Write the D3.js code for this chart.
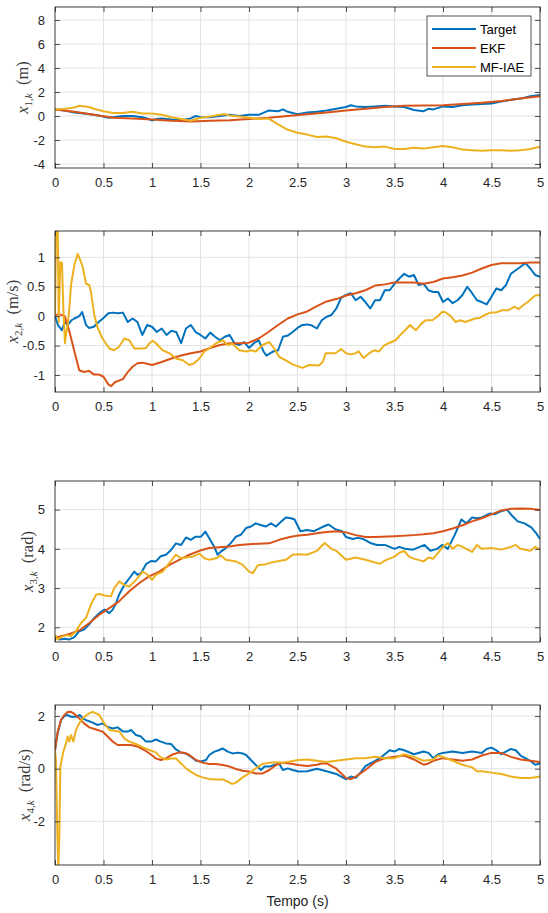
<!DOCTYPE html>
<html><head><meta charset="utf-8">
<script src="https://cdn.jsdelivr.net/npm/d3@7/dist/d3.min.js"></script>
<style>body{margin:0;background:#fff}</style>
</head><body><svg id="c" width="548" height="913"></svg>
<script>
// ---------- DATA ----------
const xTicks = [0,0.5,1,1.5,2,2.5,3,3.5,4,4.5,5];
const seriesNames = ["Target","EKF","MF-IAE"];
const x1Ticks = [-4,-2,0,2,4,6,8];
const x2Ticks = [-1,-0.5,0,0.5,1];
const x3Ticks = [2,3,4,5];
const x4Ticks = [-2,0,2];

const x1Target = [[0,0.55],[0.1,0.45],[0.2,0.3],[0.3,0.2],[0.4,0.1],[0.5,-0.05],[0.55,-0.15],[0.6,-0.1],[0.7,0.0],[0.8,0.0],[0.9,-0.1],[0.95,-0.2],[1.0,-0.38],[1.05,-0.25],[1.1,-0.2],[1.2,-0.3],[1.3,-0.35],[1.4,-0.2],[1.45,0.0],[1.5,-0.1],[1.6,-0.1],[1.7,0.0],[1.8,0.1],[1.9,0.0],[2.0,0.1],[2.1,0.1],[2.2,0.45],[2.3,0.4],[2.35,0.55],[2.4,0.35],[2.5,0.15],[2.6,0.3],[2.7,0.35],[2.8,0.45],[2.9,0.6],[3.0,0.75],[3.05,0.9],[3.1,0.8],[3.2,0.75],[3.3,0.8],[3.4,0.85],[3.5,0.8],[3.6,0.75],[3.7,0.5],[3.8,0.4],[3.85,0.6],[3.9,0.55],[4.0,0.8],[4.1,0.75],[4.2,0.9],[4.3,0.95],[4.4,1.0],[4.5,1.05],[4.6,1.2],[4.7,1.35],[4.8,1.45],[4.9,1.65],[5.0,1.75]];
const x1EKF = [[0,0.55],[0.2,0.35],[0.4,0.1],[0.6,-0.15],[0.8,-0.2],[1.0,-0.3],[1.2,-0.4],[1.4,-0.45],[1.6,-0.4],[1.8,-0.35],[2.0,-0.25],[2.2,-0.15],[2.4,0.0],[2.6,0.15],[2.8,0.3],[3.0,0.45],[3.2,0.6],[3.4,0.75],[3.6,0.85],[3.8,0.88],[4.0,0.9],[4.2,1.0],[4.4,1.1],[4.6,1.25],[4.8,1.45],[5.0,1.65]];
const x1MF = [[0,0.55],[0.1,0.6],[0.2,0.7],[0.25,0.85],[0.35,0.75],[0.4,0.6],[0.5,0.4],[0.6,0.25],[0.7,0.25],[0.8,0.35],[0.9,0.2],[1.0,0.2],[1.1,0.1],[1.2,-0.1],[1.3,-0.25],[1.4,-0.4],[1.5,-0.15],[1.6,-0.05],[1.7,0.1],[1.75,0.15],[1.8,0.05],[1.9,-0.05],[2.0,-0.15],[2.1,-0.25],[2.2,-0.2],[2.3,-0.7],[2.4,-1.15],[2.5,-1.4],[2.6,-1.55],[2.7,-1.75],[2.8,-1.7],[2.9,-1.85],[3.0,-2.15],[3.1,-2.35],[3.2,-2.55],[3.3,-2.6],[3.4,-2.55],[3.5,-2.75],[3.6,-2.75],[3.7,-2.65],[3.8,-2.7],[3.9,-2.6],[4.0,-2.5],[4.1,-2.6],[4.2,-2.8],[4.3,-2.85],[4.4,-2.9],[4.5,-2.85],[4.6,-2.85],[4.7,-2.9],[4.8,-2.85],[4.9,-2.75],[5.0,-2.55]];

const x2Target = [[0,0.0],[0.03,-0.15],[0.07,-0.24],[0.1,-0.1],[0.13,-0.15],[0.17,-0.07],[0.2,-0.04],[0.25,0.0],[0.28,0.07],[0.32,-0.15],[0.35,-0.2],[0.4,-0.18],[0.45,-0.1],[0.5,-0.03],[0.55,0.05],[0.6,0.06],[0.65,0.05],[0.7,0.06],[0.75,-0.1],[0.8,-0.04],[0.85,-0.1],[0.9,-0.32],[0.95,-0.15],[1.0,-0.18],[1.05,-0.27],[1.1,-0.21],[1.15,-0.32],[1.2,-0.25],[1.25,-0.27],[1.3,-0.46],[1.35,-0.21],[1.4,-0.15],[1.45,-0.27],[1.5,-0.32],[1.55,-0.38],[1.6,-0.28],[1.65,-0.35],[1.7,-0.41],[1.75,-0.35],[1.8,-0.32],[1.85,-0.46],[1.9,-0.49],[1.95,-0.44],[2.0,-0.54],[2.05,-0.46],[2.1,-0.41],[2.15,-0.6],[2.18,-0.67],[2.25,-0.6],[2.3,-0.58],[2.35,-0.35],[2.4,-0.33],[2.45,-0.27],[2.5,-0.2],[2.55,-0.15],[2.6,-0.14],[2.65,-0.16],[2.7,-0.21],[2.75,-0.07],[2.8,-0.01],[2.85,0.02],[2.9,0.13],[2.95,0.31],[3.0,0.36],[3.05,0.39],[3.1,0.27],[3.15,0.33],[3.2,0.24],[3.25,0.13],[3.3,0.27],[3.35,0.27],[3.4,0.44],[3.45,0.44],[3.5,0.55],[3.55,0.64],[3.6,0.72],[3.65,0.67],[3.7,0.7],[3.75,0.53],[3.8,0.55],[3.85,0.44],[3.9,0.41],[3.95,0.41],[4.0,0.24],[4.05,0.3],[4.1,0.22],[4.15,0.27],[4.2,0.36],[4.25,0.5],[4.3,0.39],[4.35,0.27],[4.4,0.24],[4.45,0.2],[4.5,0.33],[4.55,0.47],[4.6,0.44],[4.65,0.53],[4.7,0.72],[4.75,0.78],[4.8,0.84],[4.85,0.9],[4.9,0.81],[4.95,0.7],[5.0,0.67]];
const x2EKF = [[0,0.02],[0.05,0.03],[0.1,0.0],[0.15,-0.27],[0.2,-0.6],[0.25,-0.92],[0.3,-0.95],[0.35,-0.93],[0.4,-0.99],[0.45,-0.99],[0.5,-1.03],[0.55,-1.16],[0.58,-1.19],[0.62,-1.12],[0.7,-1.07],[0.75,-0.95],[0.8,-0.86],[0.85,-0.8],[0.9,-0.79],[1.0,-0.83],[1.1,-0.78],[1.2,-0.72],[1.3,-0.67],[1.4,-0.63],[1.5,-0.6],[1.6,-0.54],[1.7,-0.49],[1.8,-0.46],[1.9,-0.46],[2.0,-0.45],[2.1,-0.38],[2.2,-0.27],[2.3,-0.15],[2.4,-0.04],[2.5,0.03],[2.6,0.08],[2.7,0.17],[2.8,0.25],[2.9,0.29],[3.0,0.35],[3.1,0.39],[3.2,0.44],[3.3,0.52],[3.4,0.54],[3.5,0.57],[3.6,0.57],[3.7,0.57],[3.8,0.55],[3.9,0.58],[4.0,0.64],[4.1,0.66],[4.2,0.69],[4.3,0.74],[4.4,0.81],[4.5,0.87],[4.6,0.9],[4.7,0.9],[4.8,0.9],[4.9,0.91],[5.0,0.91]];
const x2MF = [[0,0.02],[0.006,0.8],[0.012,1.9],[0.026,1.9],[0.038,-0.1],[0.055,0.92],[0.072,0.9],[0.086,0.13],[0.103,-0.46],[0.113,-0.32],[0.13,-0.15],[0.148,0.13],[0.165,0.53],[0.2,0.87],[0.234,1.06],[0.268,0.92],[0.285,0.84],[0.32,0.55],[0.354,0.53],[0.371,0.41],[0.405,0.02],[0.44,-0.2],[0.49,-0.38],[0.56,-0.55],[0.61,-0.58],[0.66,-0.52],[0.715,-0.38],[0.766,-0.41],[0.818,-0.55],[0.887,-0.55],[0.938,-0.54],[0.973,-0.46],[1.007,-0.42],[1.04,-0.46],[1.11,-0.58],[1.18,-0.63],[1.247,-0.72],[1.316,-0.75],[1.385,-0.83],[1.436,-0.8],[1.488,-0.72],[1.54,-0.6],[1.59,-0.55],[1.66,-0.46],[1.73,-0.41],[1.78,-0.49],[1.83,-0.47],[1.9,-0.58],[1.97,-0.6],[2.02,-0.58],[2.07,-0.6],[2.14,-0.49],[2.21,-0.44],[2.26,-0.55],[2.31,-0.69],[2.38,-0.75],[2.45,-0.82],[2.5,-0.85],[2.55,-0.88],[2.62,-0.83],[2.72,-0.84],[2.76,-0.78],[2.79,-0.63],[2.84,-0.63],[2.89,-0.63],[2.95,-0.56],[3.0,-0.63],[3.05,-0.65],[3.1,-0.63],[3.13,-0.6],[3.18,-0.71],[3.24,-0.63],[3.29,-0.58],[3.34,-0.6],[3.39,-0.5],[3.44,-0.46],[3.51,-0.41],[3.56,-0.32],[3.61,-0.24],[3.66,-0.15],[3.72,-0.24],[3.77,-0.14],[3.82,-0.07],[3.89,-0.07],[3.94,-0.01],[3.99,0.07],[4.02,0.07],[4.08,0.0],[4.13,-0.1],[4.18,-0.07],[4.23,-0.1],[4.28,-0.07],[4.33,-0.04],[4.38,-0.03],[4.43,0.02],[4.49,0.06],[4.54,0.06],[4.61,0.1],[4.67,0.1],[4.74,0.16],[4.78,0.12],[4.83,0.19],[4.88,0.25],[4.95,0.35],[5.0,0.36]];

const x3Target = [[0,1.78],[0.01,1.73],[0.045,1.69],[0.1,1.71],[0.148,1.69],[0.2,1.75],[0.25,1.9],[0.3,1.94],[0.35,2.07],[0.405,2.24],[0.457,2.36],[0.51,2.45],[0.56,2.36],[0.595,2.45],[0.63,2.62],[0.66,2.83],[0.715,3.08],[0.766,3.25],[0.818,3.42],[0.85,3.34],[0.887,3.38],[0.938,3.61],[0.99,3.69],[1.04,3.68],[1.09,3.81],[1.144,3.85],[1.196,3.97],[1.247,4.14],[1.3,4.1],[1.35,4.29],[1.4,4.23],[1.45,4.31],[1.505,4.31],[1.55,4.44],[1.59,4.27],[1.64,4.06],[1.677,3.85],[1.71,3.93],[1.76,4.02],[1.81,4.14],[1.866,4.31],[1.917,4.36],[1.97,4.53],[2.02,4.57],[2.07,4.65],[2.12,4.61],[2.175,4.57],[2.227,4.65],[2.278,4.57],[2.33,4.69],[2.38,4.8],[2.433,4.78],[2.47,4.75],[2.53,4.45],[2.6,4.48],[2.67,4.45],[2.75,4.55],[2.82,4.62],[2.89,4.5],[2.96,4.45],[3.0,4.3],[3.07,4.25],[3.12,4.28],[3.18,4.25],[3.25,4.15],[3.32,4.1],[3.4,4.1],[3.45,4.05],[3.5,4.0],[3.55,4.05],[3.61,4.0],[3.69,3.98],[3.76,4.05],[3.81,4.1],[3.87,3.95],[3.94,4.0],[3.99,4.1],[4.05,4.0],[4.12,4.35],[4.19,4.75],[4.24,4.65],[4.3,4.8],[4.35,4.78],[4.4,4.8],[4.48,4.9],[4.53,4.88],[4.59,4.95],[4.66,5.0],[4.71,4.85],[4.77,4.7],[4.84,4.65],[4.91,4.55],[4.96,4.4],[5.0,4.25]];
const x3EKF = [[0,1.73],[0.148,1.83],[0.25,1.92],[0.354,2.11],[0.457,2.32],[0.56,2.49],[0.66,2.66],[0.766,2.92],[0.87,3.13],[0.97,3.3],[1.075,3.42],[1.18,3.59],[1.28,3.72],[1.385,3.85],[1.488,3.95],[1.59,4.02],[1.69,4.04],[1.8,4.06],[1.9,4.1],[2.0,4.12],[2.1,4.13],[2.21,4.14],[2.31,4.23],[2.42,4.3],[2.51,4.34],[2.6,4.36],[2.7,4.4],[2.8,4.43],[2.9,4.45],[3.0,4.42],[3.1,4.35],[3.2,4.3],[3.3,4.3],[3.5,4.32],[3.7,4.35],[3.8,4.37],[3.9,4.4],[4.0,4.45],[4.1,4.52],[4.2,4.6],[4.3,4.7],[4.4,4.78],[4.5,4.88],[4.6,4.98],[4.7,5.02],[4.8,5.03],[4.9,5.02],[5.0,4.99]];
const x3MF = [[0,1.81],[0.027,1.69],[0.062,1.75],[0.113,1.8],[0.165,1.78],[0.216,1.9],[0.268,2.11],[0.32,2.24],[0.371,2.58],[0.423,2.83],[0.457,2.85],[0.51,2.81],[0.577,2.79],[0.61,3.0],[0.663,3.17],[0.715,3.08],[0.766,3.04],[0.835,3.21],[0.904,3.42],[0.955,3.34],[1.0,3.21],[1.04,3.34],[1.11,3.42],[1.18,3.64],[1.247,3.85],[1.3,3.76],[1.35,3.78],[1.42,3.8],[1.488,3.88],[1.54,3.76],[1.59,3.72],[1.66,3.76],[1.71,3.83],[1.76,3.72],[1.866,3.68],[1.935,3.59],[2.0,3.42],[2.04,3.38],[2.09,3.58],[2.175,3.61],[2.24,3.66],[2.31,3.69],[2.38,3.72],[2.45,3.85],[2.51,3.86],[2.6,3.85],[2.7,3.95],[2.78,4.15],[2.85,4.0],[2.9,3.95],[3.0,3.72],[3.1,3.78],[3.2,3.72],[3.3,3.65],[3.35,3.62],[3.4,3.7],[3.5,3.8],[3.55,3.9],[3.6,3.95],[3.65,3.8],[3.7,3.75],[3.8,3.68],[3.85,3.78],[3.9,3.75],[4.0,4.05],[4.05,4.15],[4.1,4.0],[4.15,4.1],[4.2,4.05],[4.3,3.92],[4.35,4.1],[4.4,4.0],[4.5,4.02],[4.6,3.98],[4.7,4.05],[4.75,4.1],[4.8,4.0],[4.9,3.95],[4.95,4.05],[5.0,3.98]];

const x4Target = [[0,0.71],[0.027,1.34],[0.062,1.85],[0.096,2.0],[0.13,2.04],[0.165,1.97],[0.216,1.97],[0.258,2.04],[0.285,1.91],[0.337,1.82],[0.388,1.75],[0.44,1.66],[0.49,1.72],[0.543,1.59],[0.595,1.53],[0.646,1.57],[0.7,1.41],[0.75,1.41],[0.784,1.47],[0.835,1.28],[0.887,1.22],[0.938,1.03],[0.99,1.03],[1.04,1.11],[1.09,1.03],[1.144,0.96],[1.196,0.94],[1.247,0.73],[1.3,0.61],[1.35,0.58],[1.4,0.46],[1.454,0.3],[1.505,0.27],[1.557,0.33],[1.59,0.52],[1.643,0.65],[1.694,0.71],[1.728,0.77],[1.78,0.65],[1.83,0.58],[1.883,0.61],[1.935,0.58],[1.97,0.52],[2.02,0.33],[2.07,0.14],[2.124,-0.05],[2.16,0.08],[2.21,0.08],[2.26,0.14],[2.31,0.2],[2.35,-0.05],[2.4,0.01],[2.45,-0.05],[2.51,-0.11],[2.6,-0.1],[2.7,0.0],[2.8,-0.1],[2.9,-0.2],[2.95,-0.3],[3.0,-0.4],[3.05,-0.3],[3.1,-0.35],[3.15,-0.15],[3.2,0.1],[3.3,0.3],[3.35,0.4],[3.4,0.55],[3.45,0.7],[3.5,0.65],[3.55,0.75],[3.6,0.7],[3.7,0.55],[3.8,0.65],[3.85,0.6],[3.9,0.4],[3.95,0.55],[4.0,0.6],[4.1,0.65],[4.2,0.6],[4.3,0.65],[4.4,0.6],[4.45,0.75],[4.5,0.8],[4.55,0.7],[4.6,0.55],[4.7,0.75],[4.75,0.7],[4.8,0.5],[4.9,0.3],[4.95,0.15],[5.0,0.2]];
const x4EKF = [[0,0.71],[0.027,1.4],[0.062,1.85],[0.096,2.04],[0.13,2.15],[0.165,2.16],[0.2,2.08],[0.25,1.91],[0.3,1.72],[0.354,1.57],[0.423,1.49],[0.49,1.41],[0.543,1.22],[0.595,1.03],[0.646,0.9],[0.715,0.9],[0.784,0.9],[0.852,0.84],[0.92,0.71],[0.99,0.54],[1.04,0.39],[1.09,0.33],[1.144,0.39],[1.213,0.54],[1.28,0.62],[1.33,0.61],[1.385,0.52],[1.454,0.33],[1.52,0.23],[1.59,0.18],[1.66,0.18],[1.73,0.14],[1.8,0.08],[1.866,-0.01],[1.935,-0.08],[2.0,-0.11],[2.07,-0.18],[2.14,-0.18],[2.21,-0.05],[2.28,0.14],[2.35,0.23],[2.42,0.2],[2.51,0.14],[2.6,0.1],[2.7,0.15],[2.75,0.2],[2.8,0.2],[2.9,0.0],[3.0,-0.35],[3.05,-0.4],[3.1,-0.3],[3.2,-0.05],[3.3,0.25],[3.4,0.4],[3.5,0.45],[3.6,0.5],[3.7,0.35],[3.8,0.15],[3.85,0.2],[3.9,0.3],[4.0,0.4],[4.1,0.35],[4.2,0.3],[4.3,0.35],[4.4,0.5],[4.5,0.6],[4.6,0.6],[4.7,0.45],[4.8,0.35],[4.9,0.3],[5.0,0.25]];
const x4MF = [[0,0.71],[0.01,0.33],[0.024,-2.46],[0.034,-3.9],[0.045,-2.46],[0.055,0.08],[0.069,0.33],[0.086,0.65],[0.113,0.96],[0.13,1.22],[0.148,1.03],[0.165,1.28],[0.19,1.03],[0.216,1.47],[0.25,1.72],[0.285,1.91],[0.326,2.04],[0.354,2.1],[0.388,2.16],[0.423,2.1],[0.457,2.04],[0.508,1.72],[0.56,1.47],[0.61,1.44],[0.663,1.41],[0.715,1.15],[0.766,1.03],[0.835,0.94],[0.904,0.81],[0.973,0.71],[1.04,0.62],[1.09,0.43],[1.144,0.35],[1.196,0.39],[1.247,0.39],[1.3,0.2],[1.35,0.01],[1.4,-0.11],[1.454,-0.24],[1.52,-0.33],[1.59,-0.39],[1.66,-0.41],[1.73,-0.41],[1.78,-0.49],[1.825,-0.58],[1.866,-0.53],[1.935,-0.33],[2.0,-0.18],[2.07,0.01],[2.14,0.18],[2.21,0.23],[2.28,0.24],[2.35,0.23],[2.42,0.27],[2.51,0.33],[2.6,0.35],[2.7,0.3],[2.8,0.25],[2.9,0.3],[3.0,0.35],[3.1,0.4],[3.2,0.4],[3.3,0.45],[3.4,0.4],[3.5,0.4],[3.6,0.55],[3.7,0.45],[3.8,0.3],[3.9,0.35],[3.95,0.5],[4.0,0.45],[4.1,0.3],[4.2,0.15],[4.3,0.05],[4.35,-0.1],[4.4,-0.1],[4.5,-0.15],[4.6,-0.2],[4.7,-0.3],[4.8,-0.35],[4.9,-0.35],[5.0,-0.3]];

// ---------- LAYOUT ----------
const colors = ["#0072BD","#D95319","#EDB120"];
const L = 55, R = 540;
const panels = [
  {top:7,   bottom:168, domain:[-4.333,9.083], ticks:x1Ticks, idx:"1", unit:"(m)",     lx:28, data:[x1Target,x1EKF,x1MF], legend:true},
  {top:231, bottom:392, domain:[-1.289,1.447], ticks:x2Ticks, idx:"2", unit:"(m/s)",   lx:18, data:[x2Target,x2EKF,x2MF]},
  {top:481, bottom:642, domain:[1.625,5.73],   ticks:x3Ticks, idx:"3", unit:"(rad)",   lx:33, data:[x3Target,x3EKF,x3MF]},
  {top:705, bottom:865, domain:[-3.66,2.42],   ticks:x4Ticks, idx:"4", unit:"(rad/s)", lx:30, data:[x4Target,x4EKF,x4MF]}
];
const svg = d3.select("#c");
const x = d3.scaleLinear().domain([0,5]).range([L,R]);
const axisCol = "#262626", gridCol = "#e3e3e3", tickLen = 5;
const font = "'Liberation Sans', Arial, Helvetica, sans-serif";

panels.forEach((p,i) => {
  const y = d3.scaleLinear().domain(p.domain).range([p.bottom,p.top]);
  const g = svg.append("g");
  g.append("rect").attr("x",L).attr("y",p.top).attr("width",R-L).attr("height",p.bottom-p.top).attr("fill","#fff");
  g.append("g").selectAll("line").data(xTicks.filter(t=>t>0&&t<5)).join("line")
    .attr("x1",d=>x(d)).attr("x2",d=>x(d)).attr("y1",p.top).attr("y2",p.bottom)
    .attr("stroke",gridCol).attr("stroke-width",1);
  g.append("g").selectAll("line").data(p.ticks).join("line")
    .attr("x1",L).attr("x2",R).attr("y1",d=>y(d)).attr("y2",d=>y(d))
    .attr("stroke",gridCol).attr("stroke-width",1);
  const cid = "clip"+i;
  svg.append("clipPath").attr("id",cid).append("rect")
    .attr("x",L).attr("y",p.top).attr("width",R-L).attr("height",p.bottom-p.top);
  const line = d3.line().x(d=>x(d[0])).y(d=>y(d[1]));
  const lg = g.append("g").attr("clip-path",`url(#${cid})`);
  p.data.forEach((s,k) => {
    lg.append("path").datum(s).attr("d",line).attr("fill","none")
      .attr("stroke",colors[k]).attr("stroke-width",2).attr("stroke-linejoin","round");
  });
  const ax = g.append("g").attr("transform",`translate(0,${p.bottom})`)
    .call(d3.axisBottom(x).tickValues(xTicks).tickFormat(d=>String(d)).tickSizeInner(-tickLen).tickSizeOuter(0).tickPadding(10));
  const ay = g.append("g").attr("transform",`translate(${L},0)`)
    .call(d3.axisLeft(y).tickValues(p.ticks).tickFormat(d=>String(d)).tickSizeInner(-tickLen).tickSizeOuter(0).tickPadding(10));
  const at = g.append("g").attr("transform",`translate(0,${p.top})`)
    .call(d3.axisTop(x).tickValues(xTicks).tickFormat("").tickSizeInner(-tickLen).tickSizeOuter(0));
  const ar = g.append("g").attr("transform",`translate(${R},0)`)
    .call(d3.axisRight(y).tickValues(p.ticks).tickFormat("").tickSizeInner(-tickLen).tickSizeOuter(0));
  [ax,ay,at,ar].forEach(a => {
    a.select(".domain").remove();
    a.selectAll("line").attr("stroke",axisCol).attr("stroke-width",0.8);
    a.selectAll("text").attr("fill",axisCol).style("font-family",font).style("font-size","13px");
  });
  ax.selectAll("text").attr("dy","0.71em");
  g.append("rect").attr("x",L).attr("y",p.top).attr("width",R-L).attr("height",p.bottom-p.top)
    .attr("fill","none").attr("stroke",axisCol).attr("stroke-width",0.9);
  // y label (math style)
  const cy = (p.top+p.bottom)/2;
  const t = g.append("text").attr("transform",`translate(${p.lx},${cy}) rotate(-90)`)
    .attr("text-anchor","middle").attr("fill","#3a3a3a")
    .style("font-family","'Liberation Serif','Times New Roman',serif").style("font-size","16.5px");
  t.append("tspan").style("font-style","italic").text("x");
  t.append("tspan").attr("dy",4).style("font-size","11px").text(p.idx+",");
  t.append("tspan").style("font-size","11px").style("font-style","italic").text("k");
  t.append("tspan").attr("dy",-4).text("\u2002"+p.unit);
  if (p.legend) {
    const lgd = g.append("g");
    lgd.append("rect").attr("x",427).attr("y",16).attr("width",104).attr("height",60)
      .attr("fill","#fff").attr("stroke",axisCol).attr("stroke-width",0.8);
    seriesNames.forEach((n,k) => {
      const yy = 29 + k*19;
      lgd.append("line").attr("x1",432).attr("x2",476).attr("y1",yy).attr("y2",yy)
        .attr("stroke",colors[k]).attr("stroke-width",2);
      lgd.append("text").attr("x",480).attr("y",yy).attr("dy","0.35em")
        .attr("fill","#000").style("font-family",font).style("font-size","13px").text(n);
    });
  }
});
svg.append("text").attr("x",(L+R)/2).attr("y",901).attr("dy","0.35em").attr("text-anchor","middle")
  .attr("fill",axisCol).style("font-family",font).style("font-size","14px").text("Tempo (s)");
</script></body></html>
